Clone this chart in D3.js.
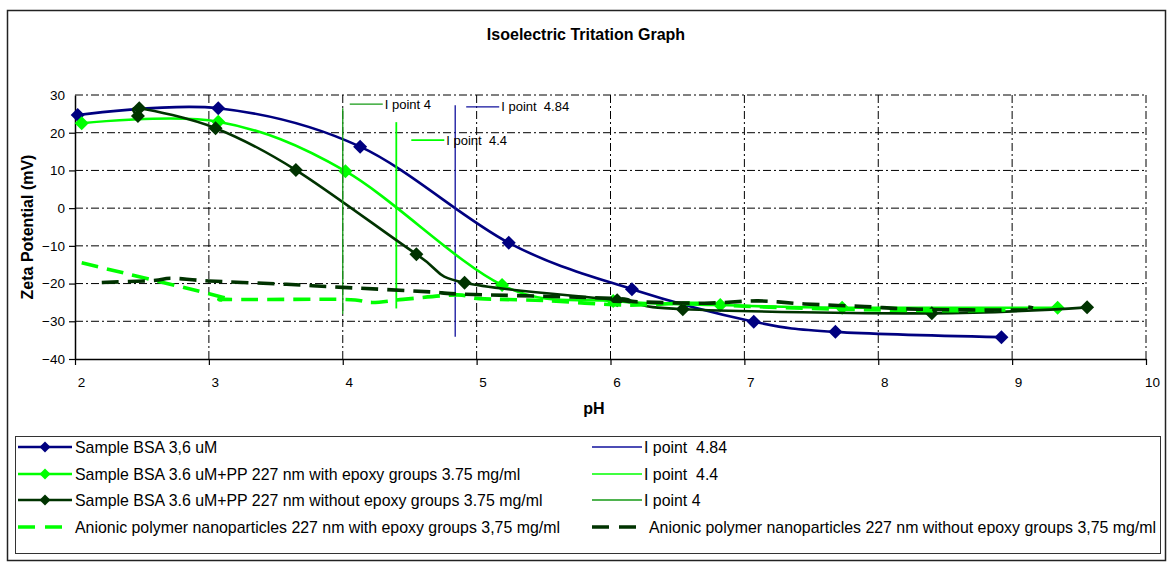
<!DOCTYPE html>
<html>
<head>
<meta charset="utf-8">
<script src="https://cdn.jsdelivr.net/npm/d3@7"></script>
<style>
  body { margin: 0; background: #fff; }
  text { font-family: "Liberation Sans", Arial, sans-serif; fill: #000; }
</style>
</head>
<body>
<svg id="chart" width="1171" height="564"></svg>
<script>
// Axis ticks
const phTicks = [2, 3, 4, 5, 6, 7, 8, 9, 10];
const zetaTicks = [-40, -30, -20, -10, 0, 10, 20, 30];

// Sample BSA 3,6 uM
const bsaPH   = [2.02, 3.07, 4.13, 5.24, 6.16, 7.07, 7.68, 8.92];
const bsaZeta = [24.7, 26.5, 16.3, -9.2, -21.5, -30.1, -32.8, -34.2];

// Sample BSA + PP with epoxy groups
const epoxyPH   = [2.05, 3.07, 4.02, 5.19, 6.02, 6.82, 7.73, 9.34];
const epoxyZeta = [22.5, 22.9, 9.8, -20.4, -24.6, -25.7, -26.4, -26.4];

// Sample BSA + PP without epoxy groups
const plainPH   = [2.47, 2.48, 3.05, 3.65, 4.55, 4.91, 6.05, 6.54, 8.40, 9.56];
const plainZeta = [24.4, 26.5, 21.2, 10.1, -12.2, -19.8, -24.4, -26.8, -27.9, -26.3];

// Anionic polymer nanoparticles with epoxy groups
const npEpoxyPH   = [2.05, 3.08, 3.12, 4.0, 4.22, 4.45, 4.85, 5.02, 5.5, 6.1, 6.6, 7.0, 7.7, 8.5, 8.95];
const npEpoxyZeta = [-14.5, -23.4, -24.2, -24.2, -25.0, -24.2, -23.0, -24.0, -24.5, -25.7, -25.2, -26.0, -26.8, -27.2, -27.0];

// Anionic polymer nanoparticles without epoxy groups
const npPlainPH   = [2.2, 2.58, 2.72, 3.0, 3.58, 4.0, 4.65, 4.9, 6.0, 6.2, 6.7, 7.1, 7.45, 7.9, 8.3, 9.1, 9.12];
const npPlainZeta = [-19.7, -19.2, -18.6, -19.3, -20.2, -21.0, -22.2, -22.8, -23.9, -24.8, -25.2, -24.6, -25.4, -26.1, -26.8, -27.0, -26.2];

// Isoelectric point markers (vertical lines)
const iPointPH     = [4.84, 4.4, 4];
const iPointTop    = [27.3, 22.8, 26.5];
const iPointBottom = [-34.1, -26.6, -28.1];
const iPointLabels = ["I point  4.84", "I point  4.4", "I point 4"];

const seriesNames = [
  "Sample BSA 3,6 uM",
  "Sample BSA 3.6 uM+PP 227 nm with epoxy groups 3.75 mg/ml",
  "Sample BSA 3.6 uM+PP 227 nm without epoxy groups 3.75 mg/ml",
  "Anionic polymer nanoparticles 227 nm with epoxy groups 3,75 mg/ml",
  "Anionic polymer nanoparticles 227 nm without epoxy groups 3,75 mg/ml"
];

const NAVY = "#000080", LIME = "#00ff00", DARK = "#003300";
const IP_COLORS = ["#10109c", "#00ff00", "#149a14"];

const svg = d3.select("#chart");

// outer frame
svg.append("rect").attr("x", 7.5).attr("y", 10.5).attr("width", 1158).attr("height", 550)
  .attr("fill", "#fff").attr("stroke", "#222").attr("stroke-width", 1.5);

const x = d3.scaleLinear().domain([2, 10]).range([75, 1146]);
const y = d3.scaleLinear().domain([-40, 30]).range([359, 95]);

// title
svg.append("text").attr("x", 586).attr("y", 40).attr("text-anchor", "middle")
  .style("font-size", "16px").style("font-weight", "bold").text("Isoelectric Tritation Graph");

// gridlines (dash-dot)
const grid = svg.append("g").attr("stroke", "#000").attr("stroke-width", 1)
  .attr("stroke-dasharray", "8,3,2,3").attr("fill", "none");
grid.selectAll("line.h").data(zetaTicks.filter(v => v > -40)).join("line")
  .attr("x1", x(2)).attr("x2", x(10)).attr("y1", d => y(d)).attr("y2", d => y(d));
grid.selectAll("line.v").data(phTicks.filter(v => v > 2)).join("line")
  .attr("y1", y(-40)).attr("y2", y(30)).attr("x1", d => x(d)).attr("x2", d => x(d));

// axes
const yAxis = svg.append("g").attr("transform", `translate(${x(2)},0)`)
  .call(d3.axisLeft(y).tickValues(zetaTicks).tickSize(6).tickSizeOuter(0).tickPadding(4));
const xAxis = svg.append("g").attr("transform", `translate(0,${y(-40)})`)
  .call(d3.axisBottom(x).tickValues(phTicks).tickSize(6).tickSizeOuter(0).tickPadding(12));
[xAxis, yAxis].forEach(a => {
  a.select(".domain").attr("stroke", "#000").attr("stroke-width", 1.5);
  a.selectAll(".tick line").attr("stroke", "#000").attr("stroke-width", 1.2);
  a.selectAll(".tick text").style("font-size", "13.5px").style("font-family", '"Liberation Sans", Arial, sans-serif').attr("fill", "#000");
});
// shift the category labels a bit right of the ticks
xAxis.selectAll(".tick text").attr("dx", 6);
yAxis.select(".tick:last-of-type line").remove();

// axis titles
svg.append("text").attr("transform", `translate(33,${(y(30) + y(-40)) / 2}) rotate(-90)`)
  .attr("text-anchor", "middle").style("font-size", "16px").style("font-weight", "bold")
  .text("Zeta Potential (mV)");
svg.append("text").attr("x", 594).attr("y", 414).attr("text-anchor", "middle")
  .style("font-size", "16px").style("font-weight", "bold").text("pH");

const smooth = d3.line().x(d => x(d[0])).y(d => y(d[1])).curve(d3.curveCardinal.tension(0));
const zip = (a, b) => a.map((v, i) => [v, b[i]]);
const diamond = r => `M0,${-r}L${r},0L0,${r}L${-r},0Z`;

const plot = svg.append("g");

function solidSeries(px, pz, color) {
  const pts = zip(px, pz);
  plot.append("path").attr("d", smooth(pts)).attr("fill", "none")
    .attr("stroke", color).attr("stroke-width", 2.6).attr("stroke-linejoin", "round");
  plot.append("g").selectAll("path").data(pts).join("path")
    .attr("transform", d => `translate(${x(d[0])},${y(d[1])})`)
    .attr("d", diamond(7)).attr("fill", color);
}

function iPointLine(i, dx, dy) {
  const g = plot.append("g");
  const xp = x(iPointPH[i]);
  g.append("line").attr("x1", xp).attr("x2", xp)
    .attr("y1", y(iPointTop[i])).attr("y2", y(iPointBottom[i]))
    .attr("stroke", IP_COLORS[i]).attr("stroke-width", i === 1 ? 1.8 : 1.3);
  const lx = xp + dx, ly = y(iPointTop[i]) + dy;
  g.append("line").attr("x1", lx).attr("x2", lx + 33).attr("y1", ly).attr("y2", ly)
    .attr("stroke", IP_COLORS[i]).attr("stroke-width", i === 1 ? 1.8 : 1.3);
  g.append("text").attr("x", lx + 35).attr("y", ly + 4.5)
    .style("font-size", "13px").style("white-space", "pre").text(iPointLabels[i]);
}

function dashedSeries(px, pz, color) {
  plot.append("path").attr("d", smooth(zip(px, pz))).attr("fill", "none")
    .attr("stroke", color).attr("stroke-width", 3.6).attr("stroke-dasharray", "17,9");
}

solidSeries(bsaPH, bsaZeta, NAVY);
iPointLine(0, 11, 1.7);
solidSeries(epoxyPH, epoxyZeta, LIME);
iPointLine(1, 15, 18);
solidSeries(plainPH, plainZeta, DARK);
iPointLine(2, 7, -4);
dashedSeries(npEpoxyPH, npEpoxyZeta, LIME);
dashedSeries(npPlainPH, npPlainZeta, DARK);

// legend
const legend = svg.append("g");
legend.append("rect").attr("x", 15.5).attr("y", 436.5).attr("width", 1145).attr("height", 117)
  .attr("fill", "#fff").attr("stroke", "#333").attr("stroke-width", 1);
const rowY = [447, 474, 500, 527];
const leftItems = [
  { name: seriesNames[0], color: NAVY, type: "marker" },
  { name: seriesNames[1], color: LIME, type: "marker" },
  { name: seriesNames[2], color: DARK, type: "marker" },
  { name: seriesNames[3], color: LIME, type: "dash" }
];
const rightItems = [
  { name: iPointLabels[0], color: IP_COLORS[0], type: "thin" },
  { name: iPointLabels[1], color: IP_COLORS[1], type: "thin" },
  { name: iPointLabels[2], color: IP_COLORS[2], type: "thin" },
  { name: seriesNames[4], color: DARK, type: "dash" }
];
function legendItem(item, x0, yy) {
  const g = legend.append("g");
  const x1 = x0 + 54;
  if (item.type === "dash") {
    g.append("line").attr("x1", x0).attr("x2", x1).attr("y1", yy).attr("y2", yy)
      .attr("stroke", item.color).attr("stroke-width", 3.6).attr("stroke-dasharray", "17,10");
  } else if (item.type === "thin") {
    g.append("line").attr("x1", x0).attr("x2", x1 - 4).attr("y1", yy).attr("y2", yy)
      .attr("stroke", item.color).attr("stroke-width", 1.3);
  } else {
    g.append("line").attr("x1", x0).attr("x2", x1).attr("y1", yy).attr("y2", yy)
      .attr("stroke", item.color).attr("stroke-width", 2.6);
    g.append("path").attr("transform", `translate(${(x0 + x1) / 2},${yy})`)
      .attr("d", diamond(5.5)).attr("fill", item.color);
  }
  g.append("text").attr("x", item.type === "thin" ? x1 - 2 : x1 + 3).attr("y", yy + 5.5)
    .style("font-size", "15.9px").style("white-space", "pre").text(item.name);
}
leftItems.forEach((it, i) => legendItem(it, 18, rowY[i]));
rightItems.forEach((it, i) => legendItem(it, 592, rowY[i]));
</script>
</body>
</html>
